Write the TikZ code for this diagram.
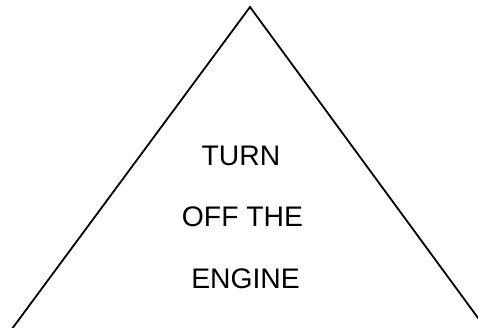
\documentclass[tikz,border=0pt]{standalone}
\usepackage{fontspec}
\setmainfont{Liberation Sans}
\begin{document}
\begin{tikzpicture}[x=1pt,y=-1pt,
  edge/.style={draw=black,line width=1.8pt},
  lbl/.style={anchor=base,inner sep=0pt,font=\fontsize{28.3}{34}\selectfont}]
\useasboundingbox (0,0) rectangle (478,327);
\clip (0,0) rectangle (478,327);
\coordinate (apex) at (250,7);
\coordinate (bl) at (6,337);
\coordinate (br) at (492,337);
\draw[edge] (bl) -- (apex) -- (br);
\node[lbl] (t1) at (241,165) {TURN};
\node[lbl] (t2) at (242.5,226) {OFF THE};
\node[lbl] (t3) at (245.5,288) {ENGINE};
\end{tikzpicture}
\end{document}
